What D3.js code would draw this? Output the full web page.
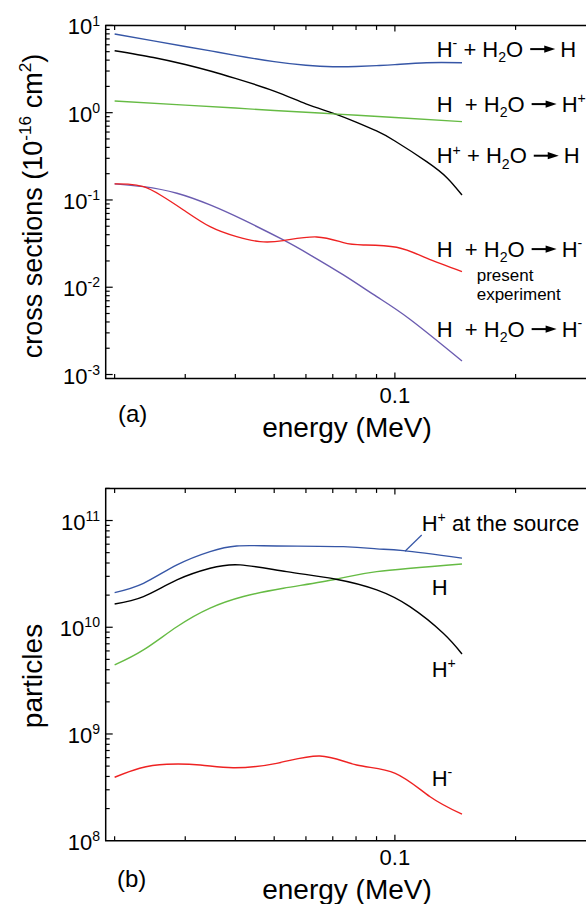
<!DOCTYPE html>
<html>
<head>
<meta charset="utf-8">
<script src="https://cdn.jsdelivr.net/npm/d3@7"></script>
<style>
  body { margin: 0; background: #fff; }
  svg { display: block; font-family: "Liberation Sans", Arial, sans-serif; }
  text { white-space: pre; }
</style>
</head>
<body>
<div id="container"></div>
<script>
/* CONSTANTS AND GLOBALS */
const width = 586, height = 904;
const plotLeft = 105.7, plotRight = 586.2;
const panelA = { top: 25.4, bottom: 378.5 };
const panelB = { top: 488.4, bottom: 840.7 };

/* DATA */
// x axis (energy, MeV)
const energyDomain = [0.019, 0.3];
const energyTicks = [0.02, 0.03, 0.04, 0.05, 0.06, 0.07, 0.08, 0.09, 0.1, 0.2];
const energyLabels = [0.1];

// panel (a): cross sections (1e-16 cm^2)
const sigmaDomain = [9.0e-4, 10];
const sigmaDecades = [-3, -2, -1, 0, 1];

const eHmH = [0.02, 0.025, 0.03, 0.035, 0.04, 0.05, 0.06, 0.07, 0.08, 0.09, 0.1, 0.12, 0.147];
const sHmH = [7.97, 6.64, 5.74, 5.07, 4.54, 3.84, 3.49, 3.36, 3.38, 3.46, 3.55, 3.74, 3.74];

const eHHp = [0.02, 0.03, 0.04, 0.05, 0.07, 0.1, 0.147];
const sHHp = [1.36, 1.22, 1.13, 1.06, 0.97, 0.88, 0.79];

const eHpH = [0.02, 0.025, 0.03, 0.035, 0.04, 0.05, 0.06, 0.07, 0.08, 0.09, 0.1, 0.12, 0.135, 0.147];
const sHpH = [5.13, 4.29, 3.56, 2.96, 2.47, 1.77, 1.26, 0.99, 0.78, 0.617, 0.474, 0.275, 0.179, 0.114];

const eHHmExp = [0.02, 0.0216, 0.0236, 0.026, 0.0297, 0.0346, 0.0403, 0.0461, 0.0527, 0.0638, 0.0744, 0.0834, 0.101, 0.12, 0.147];
const sHHmExp = [0.153, 0.152, 0.142, 0.114, 0.0768, 0.0494, 0.038, 0.0333, 0.0342, 0.0377, 0.0324, 0.0305, 0.0287, 0.0215, 0.0151];

const eHHm = [0.02, 0.0236, 0.0286, 0.0346, 0.0419, 0.0527, 0.0614, 0.0744, 0.0901, 0.109, 0.147];
const sHHm = [0.153, 0.142, 0.1193, 0.0876, 0.059, 0.0348, 0.0235, 0.01383, 0.0078, 0.0043, 0.00143];

// panel (b): particles
const partDomain = [1e8, 2e11];
const partDecades = [8, 9, 10, 11];

const eSrc = [0.02, 0.0236, 0.0286, 0.0346, 0.0403, 0.0507, 0.0744, 0.0901, 0.105, 0.147];
const nSrc = [2.11e10, 2.58e10, 3.84e10, 5.12e10, 5.78e10, 5.78e10, 5.69e10, 5.42e10, 5.22e10, 4.44e10];

const eH = [0.02, 0.0236, 0.0286, 0.0346, 0.0411, 0.0537, 0.0713, 0.0901, 0.109, 0.132, 0.147];
const nH = [1.65e10, 1.94e10, 2.78e10, 3.57e10, 3.84e10, 3.32e10, 2.82e10, 2.24e10, 1.56e10, 8.79e9, 5.62e9];

const eHp = [0.02, 0.0236, 0.0286, 0.0346, 0.0419, 0.0527, 0.0713, 0.0901, 0.147];
const nHp = [4.43e9, 6.13e9, 1.01e10, 1.51e10, 1.94e10, 2.32e10, 2.82e10, 3.32e10, 3.92e10];

const eHm = [0.02, 0.0231, 0.027, 0.0327, 0.0395, 0.0507, 0.065, 0.0803, 0.1002, 0.1224, 0.147];
const nHm = [3.93e8, 4.77e8, 5.2e8, 5.12e8, 4.83e8, 5.31e8, 6.22e8, 5.12e8, 4.28e8, 2.58e8, 1.77e8];

/* SCALES */
const xScale = d3.scaleLog().domain(energyDomain).range([plotLeft, plotRight]);
const yA = d3.scaleLog().domain(sigmaDomain).range([panelA.bottom, panelA.top]);
const yB = d3.scaleLog().domain(partDomain).range([panelB.bottom, panelB.top]);

/* HTML ELEMENTS */
const svg = d3.select("#container")
  .append("svg")
  .attr("width", width)
  .attr("height", height);

// text with super/subscripts: parts = [[text, mode]], mode 1 = sup, -1 = sub
function rich(sel, parts, size) {
  let level = 0;
  parts.forEach(([t, m]) => {
    const shift = m === 1 ? -size * 0.4 : m === -1 ? size * 0.25 : 0;
    sel.append("tspan")
      .attr("dy", shift - level)
      .attr("font-size", m ? size * 0.64 : size)
      .text(t);
    level = shift;
  });
  return sel;
}

function frame(y, decades) {
  const g = svg.append("g");
  const [y0, y1] = y.range();
  g.append("path")
    .attr("d", `M${plotRight + 2},${y1}H${plotLeft}V${y0}H${plotRight + 2}`)
    .attr("fill", "none")
    .attr("stroke", "#000")
    .attr("stroke-width", 1.5);

  // y ticks (inside)
  const [lo, hi] = y.domain();
  const yTicks = [];
  decades.forEach(d => {
    for (let k = 1; k <= 9; k++) {
      const v = k * Math.pow(10, d);
      if (v >= lo * 1.001 && v <= hi * 1.0001) yTicks.push({ v, major: k === 1 });
    }
  });
  g.selectAll(".yt").data(yTicks).join("line")
    .attr("x1", plotLeft)
    .attr("x2", d => plotLeft + (d.major ? 7 : 4))
    .attr("y1", d => y(d.v)).attr("y2", d => y(d.v))
    .attr("stroke", "#000").attr("stroke-width", 1.2);

  // x ticks on bottom and top
  [y0, y1].forEach((yy, i) => {
    const dir = i === 0 ? -1 : 1;
    g.selectAll(null).data(energyTicks).join("line")
      .attr("x1", d => xScale(d)).attr("x2", d => xScale(d))
      .attr("y1", yy)
      .attr("y2", d => yy + dir * (d === 0.1 ? 6 : 4.5))
      .attr("stroke", "#000").attr("stroke-width", 1.2);
  });

  // x labels
  g.selectAll(".xl").data(energyLabels).join("text")
    .attr("x", d => xScale(d))
    .attr("y", y0 + 24.5)
    .attr("text-anchor", "middle")
    .attr("font-size", 22)
    .text(d => d);

  // y labels (10^n)
  decades.forEach(d => {
    const t = g.append("text")
      .attr("x", 100)
      .attr("y", y(Math.pow(10, d)) + 9)
      .attr("text-anchor", "end");
    rich(t, [["10", 0], [d < 0 ? "-" + (-d) : String(d), 1]], 22);
  });

  g.append("text")
    .attr("x", 347)
    .attr("y", y0 + 58.5)
    .attr("text-anchor", "middle")
    .attr("font-size", 28)
    .text("energy (MeV)");
  return g;
}

frame(yA, sigmaDecades);
frame(yB, partDecades);

svg.append("text").attr("x", 118).attr("y", panelA.bottom + 43)
  .attr("font-size", 24).text("(a)");
svg.append("text").attr("x", 117).attr("y", panelB.bottom + 46)
  .attr("font-size", 24).text("(b)");

// axis titles
rich(svg.append("text")
  .attr("transform", `translate(42,206) rotate(-90)`)
  .attr("text-anchor", "middle"),
  [["cross sections (10", 0], ["-16", 1], [" cm", 0], ["2", 1], [")", 0]], 27);

svg.append("text")
  .attr("transform", `translate(42,676) rotate(-90)`)
  .attr("text-anchor", "middle")
  .attr("font-size", 28)
  .text("particles");

/* CURVES */
const curveA = [
  { e: eHmH, v: sHmH, color: "#3656a6" },
  { e: eHpH, v: sHpH, color: "#000000" },
  { e: eHHp, v: sHHp, color: "#66bb44" },
  { e: eHHm, v: sHHm, color: "#6b5cb0" },
  { e: eHHmExp, v: sHHmExp, color: "#ee2222" }
];
const curveB = [
  { e: eHp, v: nHp, color: "#66bb44" },
  { e: eH, v: nH, color: "#000000" },
  { e: eSrc, v: nSrc, color: "#3656a6" },
  { e: eHm, v: nHm, color: "#ee2222" }
];

function drawCurves(list, y) {
  const line = d3.line()
    .x(d => xScale(d[0]))
    .y(d => y(d[1]))
    .curve(d3.curveNatural);
  svg.append("g").selectAll("path").data(list).join("path")
    .attr("d", s => line(s.e.map((e, i) => [e, s.v[i]])))
    .attr("fill", "none")
    .attr("stroke", s => s.color)
    .attr("stroke-width", 1.4);
}
drawCurves(curveA, yA);
drawCurves(curveB, yB);

/* ANNOTATIONS */
function reaction(x, y, left, right, size) {
  const g = svg.append("g");
  const t1 = rich(g.append("text").attr("x", x).attr("y", y), left, size);
  const end = t1.node().getBBox();
  const ax = end.x + end.width + 7, ay = y - 7.6;
  g.append("line")
    .attr("x1", ax).attr("x2", ax + 16)
    .attr("y1", ay).attr("y2", ay)
    .attr("stroke", "#000").attr("stroke-width", 2);
  g.append("path")
    .attr("d", `M${ax + 14},${ay - 3.6}L${ax + 25},${ay}L${ax + 14},${ay + 3.6}Z`)
    .attr("fill", "#000");
  rich(g.append("text").attr("x", ax + 30).attr("y", y), right, size);
}

const lhsMinus = [["H", 0], ["-", 1], [" + H", 0], ["2", -1], ["O", 0]];
const lhsPlus = [["H", 0], ["+", 1], [" + H", 0], ["2", -1], ["O", 0]];
const lhsNeutral = [["H  + H", 0], ["2", -1], ["O", 0]];

reaction(436.7, 56.7, lhsMinus, [["H", 0]], 22);
reaction(436.7, 111.7, lhsNeutral, [["H", 0], ["+", 1]], 22);
reaction(436.7, 163.3, lhsPlus, [["H", 0]], 22);
reaction(436.7, 256.7, lhsNeutral, [["H", 0], ["-", 1]], 22);
reaction(436.7, 336.7, lhsNeutral, [["H", 0], ["-", 1]], 22);

svg.append("text").attr("x", 476.7).attr("y", 281).attr("font-size", 17).text("present");
svg.append("text").attr("x", 476.7).attr("y", 300.2).attr("font-size", 17).text("experiment");

// panel (b) labels
svg.append("line")
  .attr("x1", xScale(0.106)).attr("y1", yB(5.15e10))
  .attr("x2", 421.7).attr("y2", 535)
  .attr("stroke", "#3656a6").attr("stroke-width", 1.2);
rich(svg.append("text").attr("x", 421.7).attr("y", 531),
  [["H", 0], ["+", 1], [" at the source", 0]], 22);
svg.append("text").attr("x", 431.7).attr("y", 595).attr("font-size", 22).text("H");
rich(svg.append("text").attr("x", 431.7).attr("y", 676.7), [["H", 0], ["+", 1]], 22);
rich(svg.append("text").attr("x", 431.7).attr("y", 786), [["H", 0], ["-", 1]], 22);
</script>
</body>
</html>
